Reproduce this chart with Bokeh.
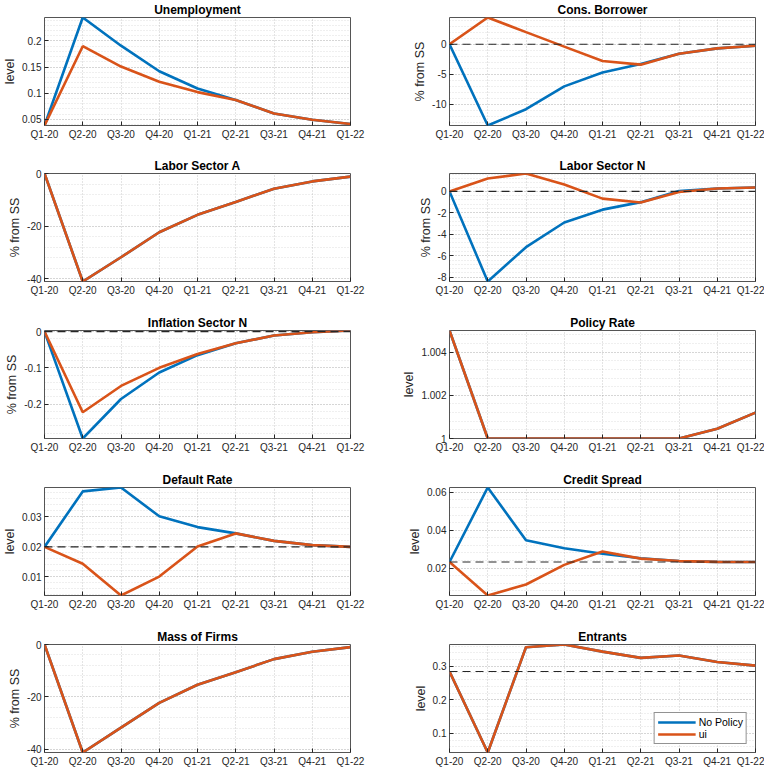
from bokeh.plotting import figure
from bokeh.layouts import gridplot
from bokeh.models import Range1d, FixedTicker, Span, Legend, LegendItem
from bokeh.embed import file_html
from bokeh.resources import INLINE

# ---------------- data ----------------
quarters = ["Q1-20", "Q2-20", "Q3-20", "Q4-20", "Q1-21", "Q2-21", "Q3-21", "Q4-21", "Q1-22"]
periods = [1, 2, 3, 4, 5, 6, 7, 8, 9]

unemp_nopolicy = [0.038, 0.245, 0.191, 0.142, 0.109, 0.087, 0.061, 0.049, 0.041]
unemp_ui = [0.038, 0.190, 0.151, 0.122, 0.102, 0.087, 0.061, 0.049, 0.041]

cons_nopolicy = [0.0, -13.5, -10.8, -7.0, -4.7, -3.3, -1.6, -0.7, -0.25]
cons_ui = [0.0, 4.43, 2.0, -0.4, -2.8, -3.4, -1.6, -0.7, -0.25]

laborA_nopolicy = [0.0, -41.0, -31.8, -22.3, -15.7, -10.8, -5.8, -3.0, -1.2]
laborA_ui = [0.0, -41.0, -31.8, -22.3, -15.7, -10.8, -5.8, -3.0, -1.2]

laborN_nopolicy = [0.0, -8.4, -5.2, -2.9, -1.7, -1.0, 0.03, 0.27, 0.36]
laborN_ui = [0.0, 1.2, 1.67, 0.64, -0.67, -1.03, -0.05, 0.27, 0.36]

infl_nopolicy = [0.0, -0.295, -0.186, -0.113, -0.065, -0.032, -0.011, -0.002, 0.003]
infl_ui = [0.0, -0.2225, -0.150, -0.100, -0.062, -0.032, -0.011, -0.002, 0.003]

policy_nopolicy = [1.005, 1.0, 1.0, 1.0, 1.0, 1.0, 1.0, 1.00045, 1.0012]
policy_ui = [1.005, 1.0, 1.0, 1.0, 1.0, 1.0, 1.0, 1.00045, 1.0012]

default_nopolicy = [0.020, 0.0385, 0.0398, 0.0302, 0.0266, 0.0245, 0.022, 0.0206, 0.020]
default_ui = [0.020, 0.0144, 0.0038, 0.0101, 0.0201, 0.0245, 0.022, 0.0206, 0.020]

spread_nopolicy = [0.0232, 0.0626, 0.0347, 0.0305, 0.0276, 0.0252, 0.0237, 0.0233, 0.0232]
spread_ui = [0.0232, 0.0055, 0.0113, 0.0217, 0.0288, 0.0250, 0.0237, 0.0233, 0.0232]

mass_nopolicy = [0.0, -41.3, -31.8, -22.3, -15.4, -10.6, -5.6, -2.8, -1.0]
mass_ui = [0.0, -41.3, -31.8, -22.3, -15.4, -10.6, -5.6, -2.8, -1.0]

entr_nopolicy = [0.2845, 0.0427, 0.357, 0.365, 0.3437, 0.325, 0.332, 0.3126, 0.302]
entr_ui = [0.2845, 0.0427, 0.357, 0.365, 0.3437, 0.325, 0.332, 0.3126, 0.302]

series_names = ["No Policy", "ui"]

# title, ylabel, no-policy, ui, y ticks, steady-state line
panels = [
    ("Unemployment", "level", unemp_nopolicy, unemp_ui, [0.05, 0.1, 0.15, 0.2], None),
    ("Cons. Borrower", "% from SS", cons_nopolicy, cons_ui, [-10, -5, 0], 0.0),
    ("Labor Sector A", "% from SS", laborA_nopolicy, laborA_ui, [-40, -20, 0], None),
    ("Labor Sector N", "% from SS", laborN_nopolicy, laborN_ui, [-8, -6, -4, -2, 0], 0.0),
    ("Inflation Sector N", "% from SS", infl_nopolicy, infl_ui, [-0.2, -0.1, 0], 0.0),
    ("Policy Rate", "level", policy_nopolicy, policy_ui, [1.0, 1.002, 1.004], None),
    ("Default Rate", "level", default_nopolicy, default_ui, [0.01, 0.02, 0.03], 0.02),
    ("Credit Spread", "level", spread_nopolicy, spread_ui, [0.02, 0.04, 0.06], 0.0232),
    ("Mass of Firms", "% from SS", mass_nopolicy, mass_ui, [-40, -20, 0], None),
    ("Entrants", "level", entr_nopolicy, entr_ui, [0.1, 0.2, 0.3], 0.2845),
]

# ---------------- style ----------------
FONT = "Liberation Sans"
TXT = "#262626"
BLUE = "#0072BD"
ORANGE = "#D95319"
FRAME_W = 306
FRAME_H = 108


def minor_of(ticks, lo, hi, n=5):
    step = (ticks[1] - ticks[0]) / n
    out = []
    t = ticks[0] - step * n * 3
    while t <= hi + 1e-12:
        if t >= lo - 1e-12:
            out.append(t)
        t += step
    return out


def style_axis(ax):
    ax.major_tick_in = 4
    ax.major_tick_out = 0
    ax.minor_tick_in = 0
    ax.minor_tick_out = 0
    ax.axis_line_color = None
    ax.major_tick_line_color = TXT
    ax.major_label_text_font = FONT
    ax.major_label_text_font_size = "10px"
    ax.major_label_text_color = TXT
    ax.major_label_standoff = 3
    ax.axis_label_text_font = FONT
    ax.axis_label_text_font_size = "12.5px"
    ax.axis_label_text_font_style = "normal"
    ax.axis_label_text_color = TXT
    ax.axis_label_standoff = 2


def make_panel(idx):
    title, ylabel, s1, s2, yticks, ss = panels[idx]
    col = idx % 2
    rw = idx // 2
    lo = min(min(s1), min(s2))
    hi = max(max(s1), max(s2))
    top = 15 if rw == 0 else 16
    bottom = 17 if rw == 4 else (31 if rw == 0 else 32)
    if col == 0:
        bl, br = 38, 35
    else:
        bl, br = 64, 9
    p = figure(frame_width=FRAME_W, frame_height=FRAME_H,
               x_range=Range1d(periods[0], periods[-1]), y_range=Range1d(lo, hi),
               output_backend="svg", toolbar_location=None,
               min_border_left=bl, min_border_right=br,
               min_border_top=top, min_border_bottom=bottom,
               background_fill_color="white", border_fill_color="white")
    p.title.text = title
    p.title.align = "center"
    p.title.text_font = FONT
    p.title.text_font_size = "12px"
    p.title.text_font_style = "bold"
    p.title.text_color = "#000000"
    p.title.standoff = 1
    p.outline_line_color = "#555555"
    p.outline_line_width = 1

    xt = FixedTicker(ticks=periods)
    yt = FixedTicker(ticks=yticks, minor_ticks=minor_of(yticks, lo, hi))
    p.xaxis.ticker = xt
    p.yaxis.ticker = yt
    p.xaxis.major_label_overrides = {x: q for x, q in zip(periods, quarters)}
    p.yaxis.major_label_overrides = {t: f"{t:g}" for t in yticks}
    p.yaxis.axis_label = ylabel
    style_axis(p.xaxis[0])
    style_axis(p.yaxis[0])

    for g in (p.xgrid[0], p.ygrid[0]):
        g.grid_line_color = TXT
        g.grid_line_alpha = 0.25
        g.grid_line_dash = "1 2"
    p.ygrid[0].minor_grid_line_color = TXT
    p.ygrid[0].minor_grid_line_alpha = 0.15
    p.ygrid[0].minor_grid_line_dash = "1 2"

    r1 = p.line(periods, s1, line_color=BLUE, line_width=2.6)
    r2 = p.line(periods, s2, line_color=ORANGE, line_width=2.6)
    if ss is not None:
        p.add_layout(Span(location=ss, dimension="width", line_color=TXT,
                          line_dash="8 5", line_width=1.1))
    if idx == len(panels) - 1:
        leg = Legend(items=[LegendItem(label=series_names[0], renderers=[r1]),
                            LegendItem(label=series_names[1], renderers=[r2])],
                     location="bottom_right")
        leg.label_text_font = FONT
        leg.label_text_font_size = "10.5px"
        leg.label_text_color = "#000000"
        leg.border_line_color = TXT
        leg.border_line_width = 1
        leg.background_fill_alpha = 1
        leg.glyph_width = 38
        leg.glyph_height = 12
        leg.label_height = 12
        leg.label_standoff = 3
        leg.padding = 3
        leg.spacing = 0
        leg.margin = 8
        p.add_layout(leg)
    return p


figs = [make_panel(i) for i in range(len(panels))]
grid = gridplot([[figs[2 * r], figs[2 * r + 1]] for r in range(5)], toolbar_location=None)

open("out.html", "w").write(file_html(grid, INLINE))
